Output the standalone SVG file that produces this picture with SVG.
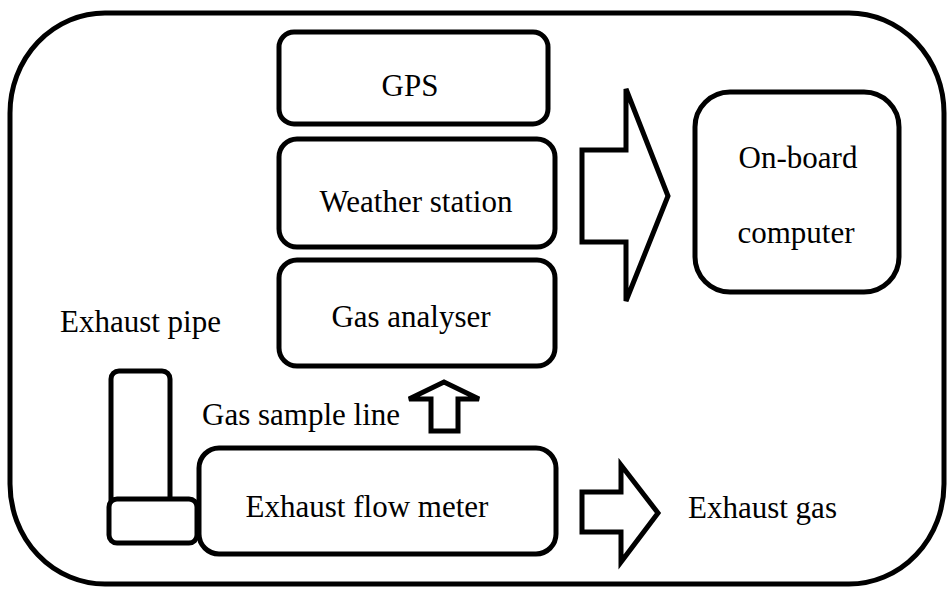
<svg xmlns="http://www.w3.org/2000/svg" width="950" height="590" viewBox="0 0 950 590">
  <style>
    .box { fill: #fff; stroke: #000; stroke-width: 5; stroke-linejoin: round; }
    .arrow { fill: #fff; stroke: #000; stroke-width: 5; stroke-linejoin: miter; }
    .label { font-family: "Liberation Serif", "Times New Roman", serif; font-size: 31px; fill: #000; }
  </style>
  <rect width="950" height="590" fill="#fff"/>

  <!-- vehicle frame -->
  <g id="frame">
    <rect class="box" x="10" y="13" width="934" height="571" rx="95" ry="100"/>
  </g>

  <g id="gps">
    <rect class="box" x="279" y="32" width="269" height="92" rx="15"/>
    <text class="label" x="410" y="96" text-anchor="middle">GPS</text>
  </g>

  <g id="weather-station">
    <rect class="box" x="279" y="139" width="276" height="108" rx="18"/>
    <text class="label" x="416" y="212" text-anchor="middle">Weather station</text>
  </g>

  <g id="gas-analyser">
    <rect class="box" x="279" y="260" width="276" height="106" rx="18"/>
    <text class="label" x="411" y="327" text-anchor="middle">Gas analyser</text>
  </g>

  <g id="onboard-computer">
    <rect class="box" x="695" y="92" width="204" height="200" rx="35"/>
    <text class="label" x="798" y="168" text-anchor="middle">On-board</text>
    <text class="label" x="796" y="243" text-anchor="middle">computer</text>
  </g>

  <g id="exhaust-pipe">
    <rect class="box" x="111" y="371" width="59" height="140" rx="8"/>
    <rect class="box" x="109" y="499" width="88" height="44" rx="8"/>
    <text class="label" x="60" y="332">Exhaust pipe</text>
  </g>

  <g id="exhaust-flow-meter">
    <rect class="box" x="199" y="448" width="357" height="106" rx="20"/>
    <text class="label" x="367" y="517" text-anchor="middle">Exhaust flow meter</text>
  </g>

  <!-- flow arrows -->
  <g id="connectors">
    <polygon class="arrow" points="582,150 626,150 626,89 668,196 626,301 626,242 582,242"/>
    <polygon class="arrow" points="431,431 431,399 409,399 444,382 479,399 458,399 458,431"/>
    <polygon class="arrow" points="582,492 621,492 621,465 658,513 621,562 621,532 582,532"/>
    <text class="label" x="202" y="425">Gas sample line</text>
    <text class="label" x="688" y="518">Exhaust gas</text>
  </g>
</svg>
